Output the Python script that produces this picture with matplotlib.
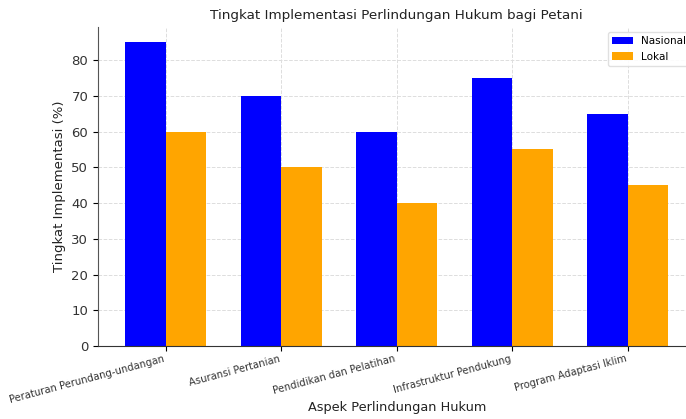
import matplotlib
matplotlib.use('Agg')
import matplotlib.pyplot as plt
import numpy as np

# Data
aspects = ["Peraturan Perundang-undangan", "Asuransi Pertanian", "Pendidikan dan Pelatihan",
           "Infrastruktur Pendukung", "Program Adaptasi Iklim"]
nasional = [85, 70, 60, 75, 65]
lokal = [60, 50, 40, 55, 45]

fig = plt.figure(figsize=(6.86, 4.19), dpi=100)
# axes extends slightly past the right edge, like the cropped original
ax = fig.add_axes([98 / 686, 73 / 419, (695.5 - 98) / 686, (346 - 27) / 419])

x = np.arange(len(aspects))
width = 0.35
ax.bar(x - width / 2, nasional, width, label="Nasional", color="blue", zorder=2)
ax.bar(x + width / 2, lokal, width, label="Lokal", color="orange", zorder=2)

ax.set_title("Tingkat Implementasi Perlindungan Hukum bagi Petani", fontsize=9.7, color="#222")
ax.set_xlabel("Aspek Perlindungan Hukum", fontsize=9.3, color="#222", labelpad=-3)
ax.set_ylabel("Tingkat Implementasi (%)", fontsize=9.5, color="#222")
ax.set_xticks(x)
ax.set_xticklabels(aspects, rotation=15, ha="right", fontsize=7.2, color="#333")
ax.tick_params(axis="x", pad=2)
ax.tick_params(axis="y", labelsize=9.5, labelcolor="#333")
ax.grid(True, linestyle="--", color="#ddd", linewidth=0.7, zorder=0)
ax.spines["top"].set_visible(False)
ax.spines["right"].set_visible(False)
ax.spines["left"].set_color("#555")
ax.spines["bottom"].set_color("#333")
ax.legend(loc="upper right", fontsize=7.5, framealpha=0.9, edgecolor="#ddd")

fig.savefig("out.png", dpi=100)
